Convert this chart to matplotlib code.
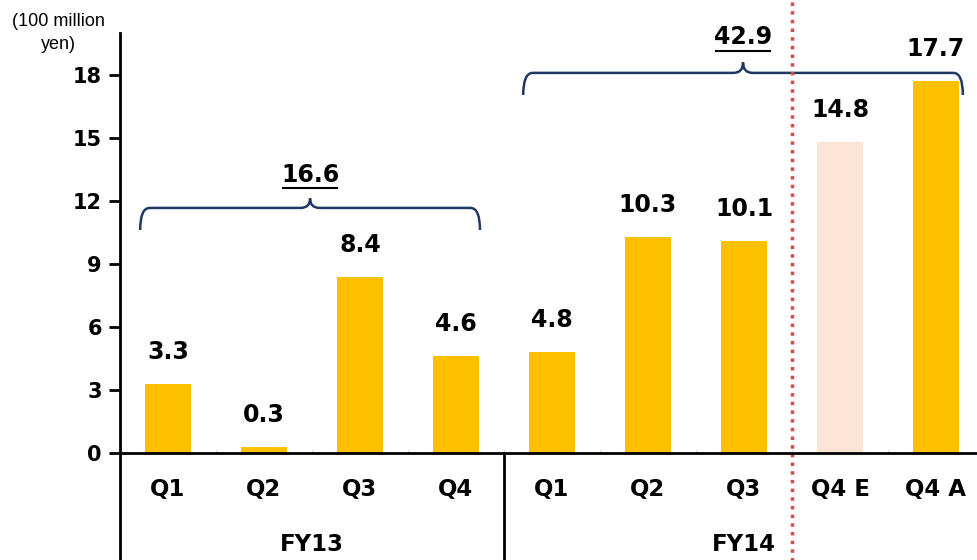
import matplotlib.pyplot as plt
from matplotlib.path import Path
from matplotlib.patches import PathPatch

categories = ["Q1", "Q2", "Q3", "Q4", "Q1", "Q2", "Q3", "Q4 E", "Q4 A"]
values = [3.3, 0.3, 8.4, 4.6, 4.8, 10.3, 10.1, 14.8, 17.7]
estimate_flags = [False, False, False, False, False, False, False, True, False]
fiscal_years = ["FY13", "FY14"]
fy_totals = ["16.6", "42.9"]
y_ticks = [0, 3, 6, 9, 12, 15, 18]

BAR = "#FFC000"
EST = "#FCE4D6"
BRACE = "#1F3864"
RED = "#C9504D"


def draw_brace(ax, x0, x1, y, drop, peak, r):
    xm = (x0 + x1) / 2
    verts = [
        (x0, y - drop), (x0, y), (x0 + r, y),
        (xm - r, y), (xm, y), (xm, y + peak),
        (xm, y), (xm + r, y),
        (x1 - r, y), (x1, y), (x1, y - drop),
    ]
    codes = [
        Path.MOVETO, Path.CURVE3, Path.CURVE3,
        Path.LINETO, Path.CURVE3, Path.CURVE3,
        Path.CURVE3, Path.CURVE3,
        Path.LINETO, Path.CURVE3, Path.CURVE3,
    ]
    ax.add_patch(PathPatch(Path(verts, codes), fill=False, edgecolor=BRACE,
                           linewidth=1.8, clip_on=False))
    return xm


fig = plt.figure(figsize=(9.78, 5.6), dpi=100)
ax = fig.add_axes([120 / 978, 1 - 453 / 560, 864 / 978, 420 / 560])

x = list(range(len(categories)))
colors = [EST if e else BAR for e in estimate_flags]
ax.bar(x, values, width=0.48, color=colors)
# labels sit ~32 px above each bar top (23 pt at 100 dpi)
for xi, v in zip(x, values):
    ax.annotate(f"{v:.1f}", (xi, v), xytext=(0, 23), textcoords="offset points",
                ha="center", va="center", fontsize=17, fontweight="bold")

ax.set_xlim(-0.5, len(categories) - 0.5)
ax.set_ylim(0, 20)
ax.set_yticks(y_ticks)
ax.set_yticklabels([str(t) for t in y_ticks], fontsize=15, fontweight="bold")
ax.tick_params(axis="y", direction="out", length=8, width=2, pad=5)
ax.set_xticks(x)
ax.set_xticklabels(categories, fontsize=16.5, fontweight="bold")
ax.tick_params(axis="x", length=0, pad=18)
ax.set_xticks([i + 0.5 for i in range(len(categories) - 1)], minor=True)
ax.tick_params(axis="x", which="minor", direction="in", length=3, color="#D9D9D9")

for s in ["top", "right"]:
    ax.spines[s].set_visible(False)
ax.spines["left"].set_linewidth(2)
ax.spines["bottom"].set_linewidth(2)

tr = ax.get_xaxis_transform()
for xs in [-0.5, 3.5]:
    ax.plot([xs, xs], [0, -0.3], color="black", lw=2, transform=tr, clip_on=False)
ax.plot([6.5, 6.5], [-0.3, 1.08], color=RED, lw=2.5, linestyle=(0, (1, 1.5)),
        transform=tr, clip_on=False)

ax.text(1.5, -0.219, fiscal_years[0], transform=tr, ha="center", va="center",
        fontsize=16.5, fontweight="bold")
ax.text(6.0, -0.219, fiscal_years[1], transform=tr, ha="center", va="center",
        fontsize=16.5, fontweight="bold")

m1 = draw_brace(ax, -0.29, 3.25, 11.67, 1.05, 0.45, 0.1)
ax.text(m1, 13.25, fy_totals[0], ha="center", va="center", fontsize=17,
        fontweight="bold")
ax.plot([m1 - 0.28, m1 + 0.28], [12.6, 12.6], color="black", lw=1.5)
m2 = draw_brace(ax, 3.70, 8.28, 18.1, 1.05, 0.5, 0.1)
ax.text(m2, 19.8, fy_totals[1], ha="center", va="center", fontsize=17,
        fontweight="bold", clip_on=False)
ax.plot([m2 - 0.28, m2 + 0.28], [19.15, 19.15], color="black", lw=1.5, clip_on=False)

fig.text(58 / 978, 1 - 33 / 560, "(100 million\nyen)", ha="center", va="center",
         fontsize=13, family="Liberation Sans", linespacing=1.45)

fig.savefig("out.png", dpi=100)
